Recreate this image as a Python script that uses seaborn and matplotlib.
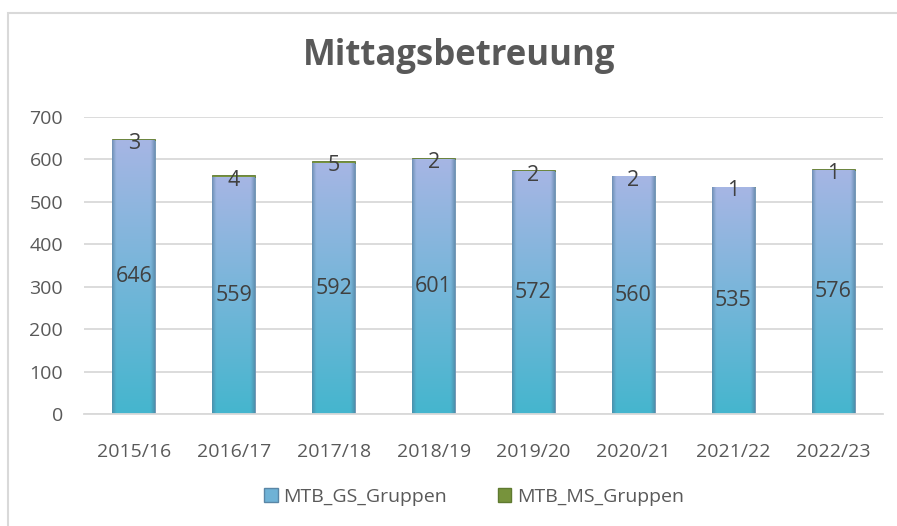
import numpy as np
import pandas as pd
import seaborn as sns
import matplotlib.pyplot as plt
from matplotlib.patches import Rectangle, Patch
from matplotlib.colors import to_rgb


years = ['2015/16', '2016/17', '2017/18', '2018/19', '2019/20', '2020/21', '2021/22', '2022/23']
gs_gruppen = [646, 559, 592, 601, 572, 560, 535, 576]
ms_gruppen = [3, 4, 5, 2, 2, 2, 1, 1]

df = pd.DataFrame({'Jahr': years, 'GS': gs_gruppen, 'MS': ms_gruppen})

sns.set_theme(style='white')
plt.rcParams['font.family'] = ['Open Sans', 'DejaVu Sans']
text_color = '#595959'

fig = plt.figure(figsize=(8.97, 5.26), dpi=100)
ax = fig.add_axes([84 / 897, 1 - 414 / 526, 799 / 897, 297 / 526])

# GS bars (base) and MS bars stacked on top
sns.barplot(data=df, x='Jahr', y='GS', color='#7fb3d9', width=0.43,
            saturation=1, ax=ax, zorder=2)
gs_container = ax.containers[0]
sns.barplot(data=df, x='Jahr', y='MS', bottom=df['GS'], color='#77933c', width=0.43,
            saturation=1, ax=ax, zorder=2)
ms_container = ax.containers[1]

# gradient fill for GS bars (lavender-blue top -> teal bottom, darker edges)
top = np.array(to_rgb('#a6b6e4'))
bottom = np.array(to_rgb('#45b5ce'))
edge_dark = np.array(to_rgb('#4d7896'))
ny, nx = 100, 40
t = np.linspace(0, 1, ny)[:, None, None]
vert = top * (1 - t) + bottom * t
xs = np.linspace(-1, 1, nx)
edge_w = np.clip((np.abs(xs) - 0.82) / 0.18, 0, 1)[None, :, None]
grad = vert * (1 - 0.55 * edge_w) + edge_dark * 0.55 * edge_w
for patch in gs_container.patches:
    x0, y0 = patch.get_x(), patch.get_y()
    w, h = patch.get_width(), patch.get_height()
    im = ax.imshow(grad, extent=[x0, x0 + w, y0, y0 + h], aspect='auto',
                   origin='upper', zorder=2.5, interpolation='bilinear')
    im.set_clip_path(patch)
    patch.set_edgecolor('#6b8fae')
    patch.set_linewidth(0.6)

for patch in ms_container.patches:
    patch.set_edgecolor('#5f7a30')
    patch.set_linewidth(0.6)

ax.bar_label(gs_container, labels=[str(v) for v in gs_gruppen], label_type='center',
             fontsize=15.5, color='#404040')
ax.bar_label(ms_container, labels=[str(v) for v in ms_gruppen], label_type='center',
             fontsize=15.5, color='#404040', padding=-3)
for txt in ax.texts:
    txt.set_zorder(5)

ax.set_xlim(-0.5, 7.5)
ax.set_ylim(0, 700)
ax.set_yticks(range(0, 701, 100))
ax.yaxis.grid(True, color='#d9d9d9', linewidth=1.3, zorder=0)
ax.set_axisbelow(True)
for side in ['top', 'right', 'left']:
    ax.spines[side].set_visible(False)
ax.spines['bottom'].set_color('#d9d9d9')
ax.spines['bottom'].set_linewidth(1.3)
ax.tick_params(axis='y', length=0, pad=15, labelsize=14, labelcolor=text_color)
ax.tick_params(axis='x', length=0, pad=21, labelsize=14, labelcolor=text_color)
ax.set_xlabel('')
ax.set_ylabel('')

fig.text(0.512, 1 - 56 / 526, 'Mittagsbetreuung', ha='center', va='center',
         fontsize=25, fontweight='bold', color=text_color)

handles = [Patch(facecolor='#6fb2d6', edgecolor='#5a86a6', label='MTB_GS_Gruppen'),
           Patch(facecolor='#77933c', edgecolor='#5f7a30', label='MTB_MS_Gruppen')]
fig.legend(handles=handles, loc='center', bbox_to_anchor=(474 / 897, 1 - 497 / 526), ncol=2,
           frameon=False, fontsize=14, labelcolor=text_color, handlelength=0.7,
           handleheight=0.7, handletextpad=0.3, columnspacing=2.6)

# light chart frame
fig.patches.append(Rectangle((8 / 897, -0.05), 1.2, 1 - 13 / 526 + 0.05,
                             transform=fig.transFigure, fill=False,
                             edgecolor='#d9d9d9', linewidth=1.5, zorder=0))

fig.savefig('out.png', dpi=100)
